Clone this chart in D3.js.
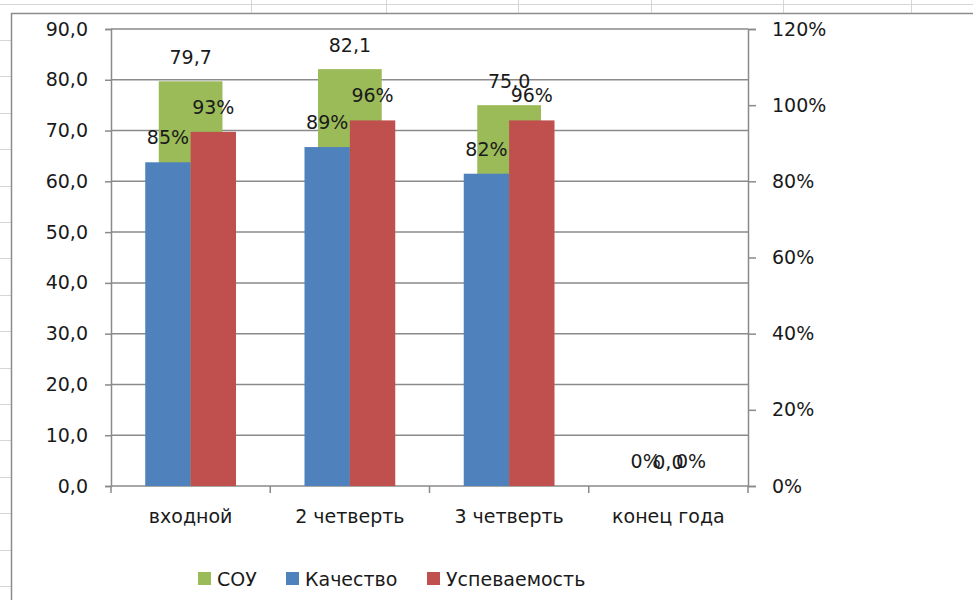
<!DOCTYPE html>
<html>
<head>
<meta charset="utf-8">
<script src="https://cdn.jsdelivr.net/npm/d3@7"></script>
<style>
  body { margin: 0; background: #fff; }
  svg { display: block; font-family: "DejaVu Sans", sans-serif; }
</style>
</head>
<body>
<svg id="chart"></svg>
<script>
const categories = ["входной", "2 четверть", "3 четверть", "конец года"];
const souValues = [79.7, 82.1, 75.0, 0];
const qualityValues = [0.85, 0.89, 0.82, 0];
const progressValues = [0.93, 0.96, 0.96, 0];
const leftTicks = [0, 10, 20, 30, 40, 50, 60, 70, 80, 90];
const rightTicks = [0, 0.2, 0.4, 0.6, 0.8, 1.0, 1.2];
const seriesNames = ["СОУ", "Качество", "Успеваемость"];

function createChart() {
    const width = 973;
    const height = 600;
    const margin = { top: 29, right: 225, bottom: 114, left: 111 };

    const colors = { sou: "#9bbb59", quality: "#4f81bd", progress: "#c0504d" };
    const gridColor = "#8a8a8a";
    const fontSize = '19px';

    const ru = d3.formatLocale({ decimal: ",", thousands: " ", grouping: [3], currency: ["", " ₽"], percent: "%" });
    const fmtNum = ru.format(".1f");
    const fmtPct = ru.format(".0%");

    const svg = d3.select('#chart')
                  .attr('width', width)
                  .attr('height', height);

    // excel sheet bits around the chart object
    svg.append('line')
        .attr('x1', 0).attr('x2', width).attr('y1', 4.5).attr('y2', 4.5)
        .attr('stroke', '#d6d6d6');
    [251, 386, 518, 651, 783, 911].forEach(x => {
        svg.append('line')
            .attr('x1', x + 0.5).attr('x2', x + 0.5).attr('y1', 0).attr('y2', 13)
            .attr('stroke', '#d6d6d6');
    });
    for (let y = 40; y < height; y += 36.4) {
        svg.append('line')
            .attr('x1', 0).attr('x2', 11).attr('y1', Math.round(y) + 0.5).attr('y2', Math.round(y) + 0.5)
            .attr('stroke', '#d6d6d6');
    }
    svg.append('path')
        .attr('d', `M11.5,${height} V13.5 H${width}`)
        .attr('fill', 'none')
        .attr('stroke', '#8c8c8c')
        .attr('stroke-width', 1.5);

    const x = d3.scaleBand()
                .domain(categories)
                .range([margin.left, width - margin.right])
                .padding(0);

    const yLeft = d3.scaleLinear()
                    .domain([0, 90])
                    .range([height - margin.bottom, margin.top]);

    const yRight = d3.scaleLinear()
                     .domain([0, 1.2])
                     .range([height - margin.bottom, margin.top]);

    // gridlines
    svg.append('g')
        .selectAll('line')
        .data(leftTicks)
        .enter()
        .append('line')
        .attr('x1', margin.left)
        .attr('x2', width - margin.right)
        .attr('y1', d => yLeft(d))
        .attr('y2', d => yLeft(d))
        .attr('stroke', gridColor)
        .attr('stroke-width', 1.5);

    const bw = x.bandwidth();
    const barW = bw * 0.285;
    const souW = bw * 0.40;

    const rows = categories.map((c, i) => ({
        cat: c, sou: souValues[i], quality: qualityValues[i], progress: progressValues[i]
    }));

    svg.append('g')
        .selectAll('rect')
        .data(rows)
        .enter()
        .append('rect')
        .attr('x', d => x(d.cat) + bw / 2 - souW / 2)
        .attr('y', d => yLeft(d.sou))
        .attr('width', souW)
        .attr('height', d => yLeft(0) - yLeft(d.sou))
        .attr('fill', colors.sou);

    svg.append('g')
        .selectAll('rect')
        .data(rows)
        .enter()
        .append('rect')
        .attr('x', d => x(d.cat) + bw / 2 - barW)
        .attr('y', d => yRight(d.quality))
        .attr('width', barW)
        .attr('height', d => yRight(0) - yRight(d.quality))
        .attr('fill', colors.quality);

    svg.append('g')
        .selectAll('rect')
        .data(rows)
        .enter()
        .append('rect')
        .attr('x', d => x(d.cat) + bw / 2)
        .attr('y', d => yRight(d.progress))
        .attr('width', barW)
        .attr('height', d => yRight(0) - yRight(d.progress))
        .attr('fill', colors.progress);

    // axes
    const leftAxis = svg.append('g')
        .attr('transform', `translate(${margin.left}, 0)`)
        .call(d3.axisLeft(yLeft).tickValues(leftTicks).tickFormat(fmtNum).tickSize(6).tickPadding(17));

    const rightAxis = svg.append('g')
        .attr('transform', `translate(${width - margin.right}, 0)`)
        .call(d3.axisRight(yRight).tickValues(rightTicks).tickFormat(fmtPct).tickSize(8).tickPadding(16));

    const bottomAxis = svg.append('g')
        .attr('transform', `translate(0, ${height - margin.bottom})`)
        .call(d3.axisBottom(x).tickSize(0).tickPadding(24));

    // category boundary ticks
    svg.append('g')
        .selectAll('line')
        .data(categories.concat(['end']))
        .enter()
        .append('line')
        .attr('x1', (d, i) => margin.left + i * bw)
        .attr('x2', (d, i) => margin.left + i * bw)
        .attr('y1', height - margin.bottom)
        .attr('y2', height - margin.bottom + 7)
        .attr('stroke', gridColor)
        .attr('stroke-width', 1.5);

    [leftAxis, rightAxis, bottomAxis].forEach(g => {
        g.select('.domain').attr('stroke', gridColor).attr('stroke-width', 1.5);
        g.selectAll('.tick line').attr('stroke', gridColor).attr('stroke-width', 1.5);
        g.selectAll('.tick text')
            .attr('fill', '#1a1a1a')
            .style('font-size', fontSize)
            .style('font-family', '"DejaVu Sans", sans-serif');
    });
    bottomAxis.select('.domain').remove();

    // data labels
    const labels = svg.append('g')
        .attr('text-anchor', 'middle')
        .style('font-size', fontSize)
        .attr('fill', '#1a1a1a');

    labels.selectAll('text.sou')
        .data(rows)
        .enter()
        .append('text')
        .attr('class', 'sou')
        .attr('x', d => x(d.cat) + bw / 2)
        .attr('y', d => yLeft(d.sou) - 17)
        .text(d => fmtNum(d.sou));

    labels.selectAll('text.quality')
        .data(rows)
        .enter()
        .append('text')
        .attr('class', 'quality')
        .attr('x', d => x(d.cat) + bw / 2 - barW / 2)
        .attr('y', d => yRight(d.quality) - 18)
        .text(d => fmtPct(d.quality));

    labels.selectAll('text.progress')
        .data(rows)
        .enter()
        .append('text')
        .attr('class', 'progress')
        .attr('x', d => x(d.cat) + bw / 2 + barW / 2)
        .attr('y', d => yRight(d.progress) - 18)
        .text(d => fmtPct(d.progress));

    // legend
    const legendColors = [colors.sou, colors.quality, colors.progress];
    const legendX = [198, 286, 427];
    const legend = svg.append('g').attr('transform', 'translate(0, 572)');

    seriesNames.forEach((name, i) => {
        legend.append('rect')
              .attr('x', legendX[i])
              .attr('y', 0)
              .attr('width', 13)
              .attr('height', 13)
              .attr('fill', legendColors[i]);

        legend.append('text')
              .attr('x', legendX[i] + 19)
              .attr('y', 7)
              .attr('dy', '0.35em')
              .text(name)
              .style('font-size', fontSize)
              .attr('fill', '#1a1a1a');
    });
}

createChart();
</script>
</body>
</html>
